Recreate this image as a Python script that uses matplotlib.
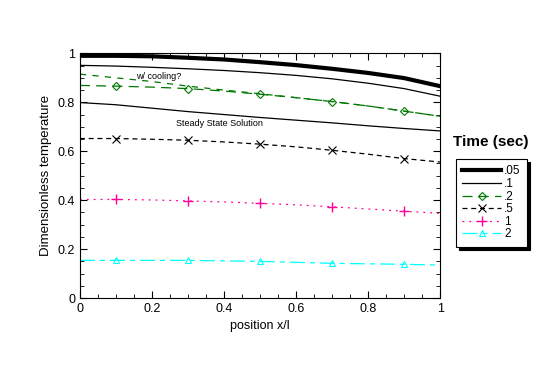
import matplotlib
matplotlib.use("Agg")
import matplotlib.pyplot as plt
from matplotlib.ticker import MultipleLocator, FuncFormatter

plt.rcParams['font.family'] = ['Liberation Sans', 'DejaVu Sans']

x = [0.0, 0.1, 0.2, 0.3, 0.4, 0.5, 0.6, 0.7, 0.8, 0.9, 1.0]
t005 = [0.990, 0.990, 0.988, 0.982, 0.975, 0.964, 0.952, 0.937, 0.920, 0.899, 0.866]
t01 = [0.951, 0.948, 0.943, 0.937, 0.930, 0.921, 0.910, 0.896, 0.878, 0.856, 0.825]
t02 = [0.869, 0.866, 0.862, 0.856, 0.846, 0.833, 0.819, 0.803, 0.785, 0.764, 0.743]
cooling = [0.915, 0.900, 0.885, 0.866, 0.850, 0.835, 0.819, 0.803, 0.785, 0.764, 0.743]
steady = [0.799, 0.790, 0.776, 0.762, 0.750, 0.738, 0.727, 0.716, 0.704, 0.693, 0.683]
t05 = [0.652, 0.652, 0.649, 0.645, 0.638, 0.629, 0.618, 0.604, 0.588, 0.570, 0.556]
t1 = [0.403, 0.403, 0.401, 0.397, 0.393, 0.387, 0.381, 0.373, 0.364, 0.355, 0.346]
t2 = [0.154, 0.154, 0.154, 0.154, 0.152, 0.150, 0.146, 0.142, 0.140, 0.138, 0.135]
marker_idx = [1, 3, 5, 7, 9]
labels = ['.05', '.1', '.2', '.5', '1', '2']

fig = plt.figure(figsize=(5.4, 3.68), dpi=100)
ax = fig.add_axes([0.148, 0.19, 0.667, 0.665])

green = '#007700'
pink = '#ff0099'
cyan = '#00ffff'

h1, = ax.plot(x, t005, color='black', lw=3.0)
h2, = ax.plot(x, t01, color='black', lw=0.9)
h3, = ax.plot(x, t02, color=green, lw=0.9, dashes=(8, 5), marker='D', ms=3.6,
              mfc='none', mec=green, mew=0.8, markevery=marker_idx)
ax.plot(x, cooling, color=green, lw=0.9, dashes=(5, 5))
ax.plot(x, steady, color='black', lw=0.9)
h4, = ax.plot(x, t05, color='black', lw=0.9, dashes=(4, 3), marker='x', ms=5.5,
              mew=0.8, markevery=marker_idx)
h5, = ax.plot(x, t1, color=pink, lw=0.9, dashes=(1.5, 4), marker='+', ms=7.2,
              mew=1.0, markevery=marker_idx)
h6, = ax.plot(x, t2, color=cyan, lw=0.9, dashes=(12, 4, 4, 4), marker='^', ms=4.8,
              mfc='none', mec=cyan, mew=0.8, markevery=marker_idx)

ax.text(0.156, 0.905, 'w/ cooling?', fontsize=6.5, ha='left', va='center')
ax.text(0.266, 0.713, 'Steady State Solution', fontsize=6.5, ha='left', va='center')

ax.set_xlim(0, 1)
ax.set_ylim(0, 1)
ax.xaxis.set_major_locator(MultipleLocator(0.2))
ax.xaxis.set_minor_locator(MultipleLocator(0.05))
ax.yaxis.set_major_locator(MultipleLocator(0.2))
ax.yaxis.set_minor_locator(MultipleLocator(0.05))
fmt = FuncFormatter(lambda v, p: '0' if abs(v) < 1e-9 else ('1' if abs(v - 1) < 1e-9 else f'{v:.1f}'))
ax.xaxis.set_major_formatter(fmt)
ax.yaxis.set_major_formatter(fmt)
ax.tick_params(which='both', direction='in', top=True, right=True, labelsize=9)
ax.tick_params(which='major', length=5)
ax.tick_params(which='minor', length=3)
ax.set_xlabel('position x/l', fontsize=9)
ax.set_ylabel('Dimensionless temperature', fontsize=9.5)

leg = fig.legend([h1, h2, h3, h4, h5, h6], labels, loc='upper left',
                 bbox_to_anchor=(0.844, 0.568), frameon=True, fancybox=False,
                 shadow={'color': 'black', 'alpha': 1.0}, edgecolor='black',
                 fontsize=8.5, handlelength=3.3,
                 numpoints=1, labelspacing=0.05, handletextpad=0.25,
                 borderpad=0.55, borderaxespad=0)
leg.get_frame().set_linewidth(0.8)
fig.text(0.839, 0.614, 'Time (sec)', fontsize=11, fontweight='bold', ha='left', va='center')

fig.savefig('out.png', dpi=100)
